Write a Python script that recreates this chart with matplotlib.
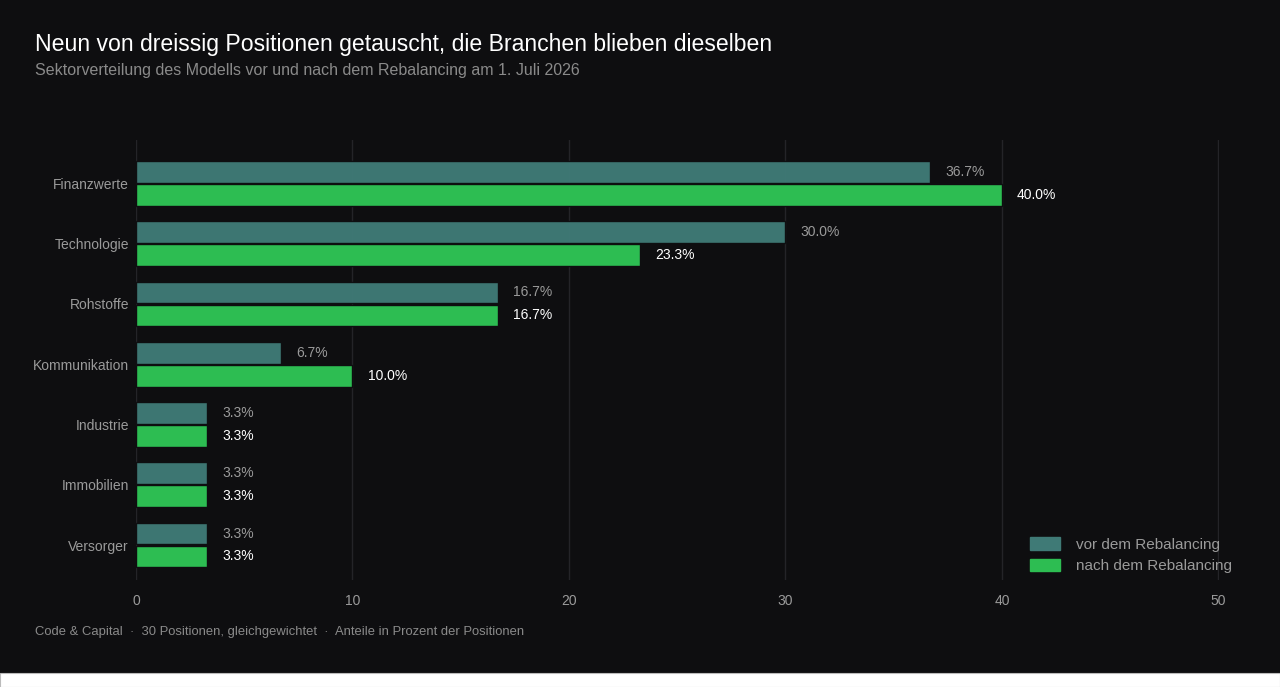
import matplotlib

matplotlib.use("Agg")
import matplotlib.pyplot as plt
import numpy as np
from matplotlib.patches import Rectangle

plt.rcParams["font.family"] = ["Liberation Sans", "DejaVu Sans"]

# Sektorverteilung in Prozent der Positionen
SECTORS = [
    "Finanzwerte",
    "Technologie",
    "Rohstoffe",
    "Kommunikation",
    "Industrie",
    "Immobilien",
    "Versorger",
]
BEFORE = [36.7, 30.0, 16.7, 6.7, 3.3, 3.3, 3.3]
AFTER = [40.0, 23.3, 16.7, 10.0, 3.3, 3.3, 3.3]
X_TICKS = [0, 10, 20, 30, 40, 50]

BG = "#0e0e10"
TEAL = "#3f7a76"
GREEN = "#2dbd52"
GRID = "#242428"
MUTED = "#9a9a9a"

fig = plt.figure(figsize=(12.8, 6.87), dpi=100, facecolor=BG)
# weisser Streifen unten wie im Original
fig.patches.append(Rectangle((0, 0), 1, 14 / 687, transform=fig.transFigure,
                             facecolor="white", edgecolor="#bbbbbb", linewidth=0.8))

ax = fig.add_axes([136 / 1280, 1 - 580 / 687, (1219 - 136) / 1280, (580 - 140) / 687])
ax.set_facecolor(BG)

y = np.arange(len(SECTORS))
h = 0.36
ax.barh(y - h / 2 - 0.01, BEFORE, height=h, color=TEAL, alpha=0.97,
        edgecolor=BG, linewidth=1, zorder=2)
ax.barh(y + h / 2 + 0.01, AFTER, height=h, color=GREEN,
        edgecolor=BG, linewidth=1, zorder=2)

for yi, v in zip(y, BEFORE):
    ax.text(v + 0.7, yi - h / 2 - 0.01, f"{v:.1f}%", color=MUTED, fontsize=10,
            va="center", ha="left")
for yi, v in zip(y, AFTER):
    ax.text(v + 0.7, yi + h / 2 + 0.01, f"{v:.1f}%", color="white", fontsize=10,
            va="center", ha="left")

ax.set_xlim(0, 50.03)
ax.set_ylim(6.58, -0.72)
ax.set_xticks(X_TICKS)
ax.set_yticks(y)
ax.set_yticklabels(SECTORS)
ax.tick_params(axis="both", length=0, colors=MUTED, labelsize=10)
ax.tick_params(axis="x", pad=10)
ax.tick_params(axis="y", pad=5)
ax.grid(axis="x", color=GRID, linewidth=1, zorder=1)
ax.set_axisbelow(True)
for s in ax.spines.values():
    s.set_visible(False)

leg = ax.legend(
    handles=[
        Rectangle((0, 0), 1, 1, color=TEAL, label="vor dem Rebalancing"),
        Rectangle((0, 0), 1, 1, color=GREEN, label="nach dem Rebalancing"),
    ],
    loc="lower right",
    bbox_to_anchor=(1.025, -0.016),
    frameon=False,
    fontsize=11,
    labelcolor=MUTED,
    handlelength=1.9,
    handleheight=0.9,
    handletextpad=1.1,
    labelspacing=0.45,
)

fig.text(35 / 1280, 1 - 44 / 687, "Neun von dreissig Positionen getauscht, die Branchen blieben dieselben",
         color="white", fontsize=16.6, va="center", ha="left")
fig.text(35 / 1280, 1 - 70 / 687, "Sektorverteilung des Modells vor und nach dem Rebalancing am 1. Juli 2026",
         color="#8a8a8a", fontsize=11.5, va="center", ha="left")
fig.text(35 / 1280, 1 - 632 / 687,
         "Code & Capital  \u00b7  30 Positionen, gleichgewichtet  \u00b7  Anteile in Prozent der Positionen",
         color="#8a8a8a", fontsize=9.4, va="center", ha="left")

fig.savefig("out.png", dpi=100, facecolor=BG)
